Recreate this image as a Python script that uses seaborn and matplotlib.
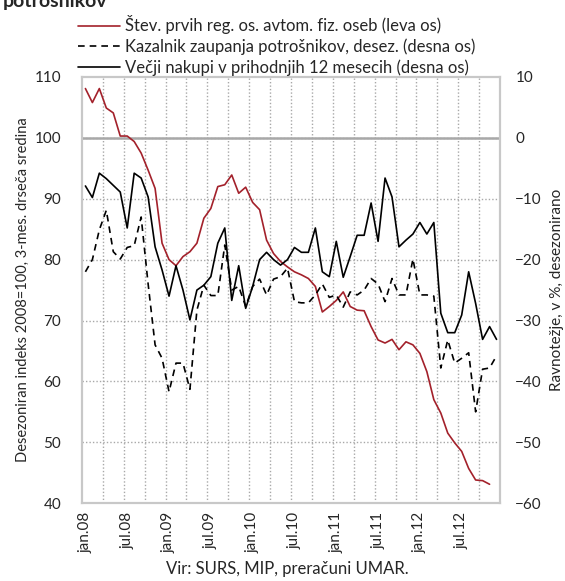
import numpy as np
import pandas as pd
import matplotlib.pyplot as plt
import seaborn as sns

# monthly data jan.08 - dec.12
months = pd.date_range("2008-01-01", periods=60, freq="MS")
month_lbls = ["jan.08", "jul.08", "jan.09", "jul.09", "jan.10",
              "jul.10", "jan.11", "jul.11", "jan.12", "jul.12"]

# first registrations of cars by natural persons (left axis), ends nov.12
cars = [108.1, 105.8, 108.1, 104.9, 104.1, 100.3, 100.3, 99.4, 97.5, 94.7,
        91.7, 82.7, 80.0, 79.0, 80.5, 81.3, 82.7, 86.8, 88.4, 92.0,
        92.3, 93.9, 90.9, 91.9, 89.4, 88.2, 83.2, 81.0, 79.7, 78.8,
        78.0, 77.5, 76.9, 75.6, 71.4, 72.3, 73.3, 74.7, 72.3, 71.7,
        71.6, 69.0, 66.8, 66.3, 66.9, 65.2, 66.5, 66.0, 64.6, 61.6,
        57.0, 54.8, 51.5, 49.9, 48.5, 45.7, 43.8, 43.7, 43.1, np.nan]

# consumer confidence indicator (right axis)
confidence = [-22.0, -20.0, -15.1, -11.9, -18.7, -19.9, -18.0, -17.7, -13.0, -24.0,
              -34.0, -36.2, -41.7, -37.0, -37.0, -41.3, -28.3, -24.2, -25.9, -25.9,
              -17.6, -25.0, -24.4, -27.7, -24.4, -23.2, -25.8, -23.2, -22.8, -21.4,
              -26.9, -27.1, -27.1, -25.8, -24.0, -26.2, -25.8, -27.8, -25.3, -25.8,
              -25.0, -23.1, -24.0, -26.9, -23.1, -25.8, -25.8, -19.9, -25.8, -25.8,
              -26.0, -37.8, -33.2, -37.0, -36.2, -35.3, -45.0, -38.0, -37.8, -35.8]

# major purchases in next 12 months (right axis)
purchases = [-7.9, -9.8, -5.8, -6.7, -7.8, -8.9, -14.8, -5.8, -6.6, -9.7,
             -17.9, -21.7, -26.0, -21.0, -25.0, -29.9, -25.0, -24.2, -22.8, -17.3,
             -14.8, -26.7, -21.0, -28.0, -24.4, -20.0, -18.8, -20.0, -20.9, -20.0,
             -18.0, -18.8, -18.8, -14.8, -22.0, -22.8, -17.0, -22.9, -19.5, -16.0,
             -16.0, -10.7, -17.0, -6.6, -9.7, -17.9, -16.8, -15.8, -13.9, -15.8,
             -13.9, -28.8, -32.0, -32.0, -29.1, -22.0, -27.2, -33.1, -31.0, -33.1]

lbl_cars = "Štev. prvih reg. os. avtom. fiz. oseb (leva os)"
lbl_conf = "Kazalnik zaupanja potrošnikov, desez. (desna os)"
lbl_purch = "Večji nakupi v prihodnjih 12 mesecih (desna os)"

df = pd.DataFrame({"t": np.arange(len(months)), "cars": cars,
                   "conf": confidence, "purch": purchases})

sns.set_style("white")
plt.rcParams['font.family'] = ['Lato', 'DejaVu Sans']
plt.rcParams['font.size'] = 11

fig = plt.figure(figsize=(5.65, 5.81), dpi=100)
ax = fig.add_axes([0.145, 0.134, 0.74, 0.7335])
ax2 = ax.twinx()

red = "#A3212B"
sns.lineplot(data=df, x="t", y="cars", ax=ax, color=red, lw=1.2, label=lbl_cars, legend=False)
sns.lineplot(data=df, x="t", y="conf", ax=ax2, color="black", lw=1.2,
             linestyle=(0, (4, 3)), label=lbl_conf, legend=False)
sns.lineplot(data=df, x="t", y="purch", ax=ax2, color="black", lw=1.2,
             label=lbl_purch, legend=False)

ax.set_ylim(40, 110)
ax2.set_ylim(-60, 10)
ax.set_yticks(np.arange(40, 111, 10))
ax2.set_yticks(np.arange(-60, 11, 10))
ax.set_xlim(-0.5, 59.5)
ax.set_xticks(np.arange(0, 60, 6))
ax.set_xticklabels(month_lbls, rotation=90)

# dotted grid drawn as plain lines so it sits under the data
for yv in np.arange(50, 110, 10):
    ax.axhline(yv, color="#A8A8A8", ls=(0, (1, 1.5)), lw=1.0, zorder=0.5)
for xv in np.arange(2.5, 59.5, 3):
    ax.axvline(xv, color="#A8A8A8", ls=(0, (1, 1.5)), lw=1.0, zorder=0.5)
ax.axhline(100, color="#A8A8A8", lw=1.8, zorder=1)

ax.tick_params(axis="y", length=0, pad=15, labelsize=11)
ax2.tick_params(axis="y", length=0, pad=11, labelsize=11)
ax.tick_params(axis="x", which="both", length=0, pad=6, labelsize=11)
for a in (ax, ax2):
    for s in a.spines.values():
        s.set_color("#C8C8C8")
        s.set_linewidth(1.5)

ax.set_xlabel("")
ax.set_ylabel("Desezoniran indeks 2008=100, 3-mes. drseča sredina", fontsize=10.5, labelpad=3)
ax2.set_ylabel("Ravnotežje, v %, desezonirano", fontsize=11, labelpad=6)

h1, t1 = ax.get_legend_handles_labels()
h2, t2 = ax2.get_legend_handles_labels()
fig.legend(h1 + h2, t1 + t2, loc="upper left", bbox_to_anchor=(0.127, 0.985),
           frameon=False, fontsize=12, handlelength=2.5, labelspacing=0.25,
           handletextpad=0.3, borderaxespad=0)

fig.text(0.005, 0.988, "potrošnikov", fontsize=14, fontweight="bold", va="baseline")
fig.text(0.508, 0.007, "Vir: SURS, MIP, preračuni UMAR.", ha="center", va="bottom", fontsize=12)

fig.savefig("out.png", dpi=100)
